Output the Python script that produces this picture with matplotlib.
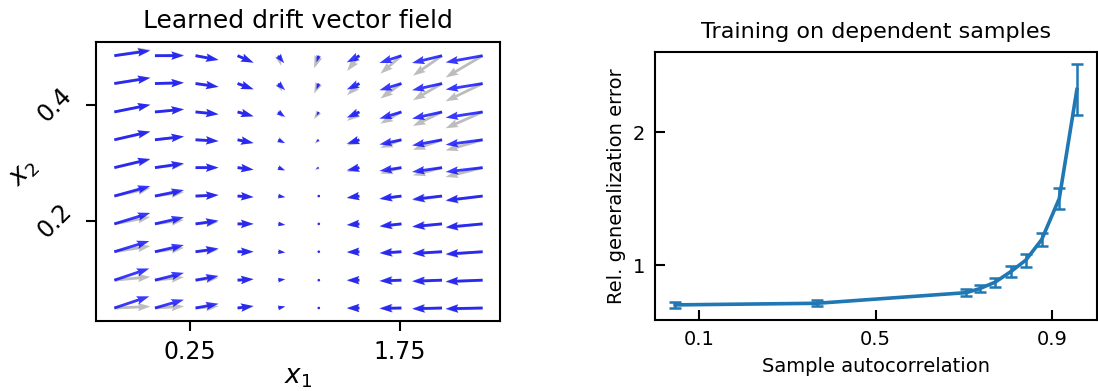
import matplotlib
matplotlib.use("Agg")
import matplotlib.pyplot as plt
import numpy as np

# grid of the vector field (rows listed from top to bottom)
x_grid = [-0.29, 0.0, 0.29, 0.59, 0.88, 1.17, 1.46, 1.76, 2.05, 2.34]
y_grid = [0.485, 0.437, 0.388, 0.340, 0.292, 0.243, 0.195, 0.147, 0.098, 0.05]

# learned drift (blue), rows top -> bottom
u_learned = [
    [3.6, 2.9, 2.3, 1.6, 0.6, -0.23, -1.27, -2.2, -3.0, -3.7],
    [3.6, 2.9, 2.3, 1.6, 0.7, -0.23, -1.27, -2.2, -3.0, -3.7],
    [3.6, 2.9, 2.3, 1.6, 0.7, -0.23, -1.27, -2.2, -3.0, -3.7],
    [3.6, 2.9, 2.3, 1.6, 0.7, -0.30, -1.27, -2.2, -3.0, -3.7],
    [3.6, 2.9, 2.3, 1.6, 0.7, -0.30, -1.27, -2.2, -3.0, -3.7],
    [3.6, 2.9, 2.3, 1.6, 0.7, -0.20, -1.27, -2.2, -3.0, -3.7],
    [3.6, 2.9, 2.3, 1.6, 0.7, -0.20, -1.27, -2.2, -3.0, -3.7],
    [3.5, 2.9, 2.3, 1.6, 0.7, -0.20, -1.27, -2.2, -3.0, -3.7],
    [3.5, 2.9, 2.3, 1.6, 0.7, -0.20, -1.27, -2.2, -3.0, -3.7],
    [3.5, 2.9, 2.3, 1.6, 0.7, -0.20, -1.27, -2.2, -3.0, -3.7],
]
v_learned = [
    [0.50, 0.00, -0.43, -0.70, -0.76, -0.67, -0.67, -0.73, -0.73, -0.67],
    [0.57, 0.07, -0.33, -0.57, -0.67, -0.60, -0.60, -0.67, -0.67, -0.60],
    [0.73, 0.27, -0.23, -0.43, -0.50, -0.40, -0.57, -0.67, -0.67, -0.57],
    [0.83, 0.33, -0.13, -0.33, -0.33, -0.23, -0.40, -0.47, -0.57, -0.50],
    [0.87, 0.43, 0.00, -0.20, -0.27, -0.10, -0.27, -0.33, -0.43, -0.43],
    [1.00, 0.60, 0.10, -0.10, -0.10, -0.10, -0.17, -0.27, -0.33, -0.43],
    [1.10, 0.67, 0.33, 0.00, -0.10, -0.03, -0.10, -0.23, -0.27, -0.33],
    [1.07, 0.67, 0.33, 0.00, -0.07, 0.00, -0.03, -0.13, -0.17, -0.23],
    [1.17, 0.73, 0.43, 0.10, 0.10, 0.03, 0.00, -0.07, -0.10, -0.13],
    [1.17, 0.83, 0.43, 0.20, 0.17, 0.07, 0.00, -0.03, -0.07, -0.07],
]

# true drift (grey), rows top -> bottom
u_true = [
    [3.6, 2.9, 2.3, 1.6, 0.3, -0.47, -1.23, -2.1, -2.9, -3.7],
    [3.6, 2.9, 2.3, 1.6, 0.4, -0.47, -1.23, -2.1, -2.9, -3.7],
    [3.6, 2.9, 2.3, 1.6, 0.5, -0.47, -1.23, -2.1, -2.9, -3.7],
    [3.6, 2.9, 2.3, 1.6, 0.5, -0.40, -1.23, -2.1, -2.9, -3.7],
    [3.6, 2.9, 2.3, 1.6, 0.6, -0.40, -1.23, -2.1, -2.9, -3.7],
    [3.6, 2.9, 2.3, 1.6, 0.7, -0.20, -1.23, -2.1, -2.9, -3.7],
    [3.6, 2.9, 2.3, 1.6, 0.7, -0.20, -1.23, -2.1, -2.9, -3.7],
    [3.6, 2.9, 2.3, 1.6, 0.7, -0.20, -1.23, -2.1, -2.9, -3.7],
    [3.6, 2.9, 2.3, 1.6, 0.7, -0.20, -1.23, -2.1, -2.9, -3.7],
    [3.6, 2.9, 2.3, 1.6, 0.7, -0.20, -1.23, -2.1, -2.9, -3.7],
]
v_true = [
    [0.60, 0.07, -0.40, -0.70, -1.00, -1.27, -1.53, -1.80, -2.00, -2.17],
    [0.60, 0.10, -0.33, -0.60, -0.80, -1.00, -1.17, -1.50, -1.67, -1.77],
    [0.70, 0.27, -0.23, -0.45, -0.60, -0.73, -0.90, -1.17, -1.40, -1.63],
    [0.80, 0.33, -0.13, -0.33, -0.40, -0.40, -0.57, -0.80, -1.00, -1.07],
    [0.80, 0.33, 0.00, -0.20, -0.30, -0.27, -0.43, -0.60, -0.77, -0.93],
    [0.80, 0.40, 0.10, -0.10, -0.13, -0.13, -0.23, -0.33, -0.43, -0.50],
    [0.70, 0.40, 0.20, 0.00, -0.10, -0.07, -0.17, -0.30, -0.33, -0.40],
    [0.57, 0.40, 0.20, 0.00, -0.07, -0.03, -0.10, -0.20, -0.23, -0.30],
    [0.33, 0.30, 0.23, 0.10, 0.07, 0.00, -0.07, -0.13, -0.17, -0.20],
    [0.15, 0.17, 0.17, 0.15, 0.10, 0.03, -0.07, -0.10, -0.13, -0.13],
]

# training on dependent samples
autocorr = [0.045, 0.367, 0.706, 0.737, 0.771, 0.807, 0.841, 0.877, 0.917, 0.957]
rel_error = [0.703, 0.715, 0.795, 0.826, 0.873, 0.953, 1.039, 1.193, 1.502, 2.321]
rel_error_std = [0.022, 0.022, 0.026, 0.029, 0.034, 0.039, 0.049, 0.051, 0.08, 0.19]

fig = plt.figure(figsize=(10.98, 3.91), dpi=100)

# left panel: vector field
ax1 = fig.add_axes([96 / 1098, 70 / 391, 404 / 1098, 279 / 391])
X, Y = np.meshgrid(x_grid, y_grid)
ax1.quiver(X, Y, np.array(u_true), np.array(v_true), color="#bdbdbd",
           units="dots", width=2.8, headwidth=3, headlength=4.5,
           headaxislength=4, scale_units="dots", scale=0.1)
ax1.quiver(X, Y, np.array(u_learned), np.array(v_learned), color="#0000ff",
           alpha=0.78, units="dots", width=2.8, headwidth=3, headlength=4.5,
           headaxislength=4, scale_units="dots", scale=0.1)
ax1.set_xlim(-0.421, 2.464)
ax1.set_ylim(0.0276, 0.5086)
ax1.set_xticks([0.25, 1.75])
ax1.set_xticklabels(["0.25", "1.75"])
ax1.set_yticks([0.2, 0.4])
ax1.set_yticklabels(["0.2", "0.4"], rotation=45, va="center")
ax1.tick_params(labelsize=17, length=7, width=1.5, direction="out", pad=7)
for s in ax1.spines.values():
    s.set_linewidth(1.5)
ax1.set_title("Learned drift vector field", fontsize=18, pad=10)
ax1.set_xlabel("$x_1$", fontsize=19, labelpad=0)
ax1.set_ylabel("$x_2$", fontsize=19, rotation=45, labelpad=0)

# right panel: error vs autocorrelation
ax2 = fig.add_axes([655 / 1098, 71 / 391, 442 / 1098, 268 / 391])
ax2.errorbar(autocorr, rel_error, yerr=rel_error_std, color="#1f77b4",
             lw=2.6, elinewidth=1.8, capsize=4, capthick=1.8)
ax2.set_xticks([0.1, 0.5, 0.9])
ax2.set_yticks([1, 2])
ax2.tick_params(labelsize=14, length=7, width=1.5, direction="in", pad=7)
for s in ax2.spines.values():
    s.set_linewidth(1.5)
ax2.set_title("Training on dependent samples", fontsize=16, pad=10)
ax2.set_xlabel("Sample autocorrelation", fontsize=14, labelpad=6)
ax2.set_ylabel("Rel. generalization error", fontsize=14, labelpad=5)

fig.savefig("out.png", dpi=100)
